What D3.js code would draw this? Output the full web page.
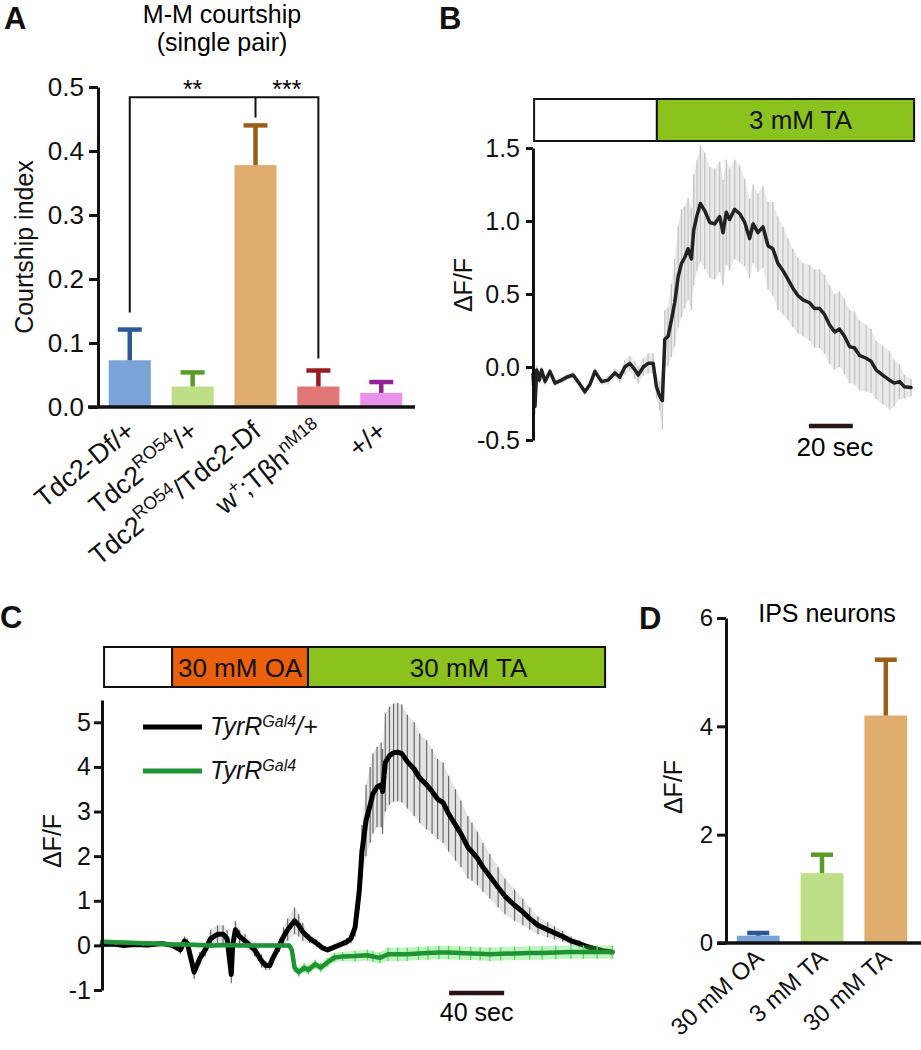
<!DOCTYPE html>
<html><head><meta charset="utf-8">
<script src="https://cdn.jsdelivr.net/npm/d3@7"></script>
<style>
body{margin:0;background:#fff}
svg{display:block}
</style>
</head><body>
<svg id="fig" width="921" height="1050"></svg>
<script>
// ---------------- DATA ----------------
// Panel A
const aCategories = ["Tdc2-Df/+", "Tdc2RO54/+", "Tdc2RO54/Tdc2-Df", "w+;TβhnM18", "+/+"];
const aLabelParts = [
  [["Tdc2-Df/+", 0]],
  [["Tdc2", 0], ["RO54", 1], ["/+", 0]],
  [["Tdc2", 0], ["RO54", 1], ["/Tdc2-Df", 0]],
  [["w", 0], ["+", 1], [";Tβh", 0], ["nM18", 1]],
  [["+/+", 0]]
];
const aValues = [0.073, 0.032, 0.378, 0.032, 0.022];
const aErrors = [0.048, 0.022, 0.062, 0.025, 0.017];
const aTicks = [0, 0.1, 0.2, 0.3, 0.4, 0.5];
const aSignif = ["**", "***"];

// Panel B
const bTime = [0,0.9,1.7,2.9,3.9,5.5,7.7,10.0,13.0,15.3,18.3,21.4,23.6,25.9,28.2,31.2,34.2,37.3,39.5,41.8,44.1,46.4,47.9,50.2,52.4,54.7,56.2,57.7,58.9,60.0,61.5,63.0,64.5,66.1,67.6,69.1,70.6,72.1,73.2,74.7,76.2,78.2,80.5,82.7,85.0,86.5,88.0,89.5,91.8,94.1,96.4,98.6,100.2,102.4,104.7,107.0,109.2,111.5,113.8,116.1,118.3,120.6,122.9,125.9,128.2,130.5,132.7,135.0,137.3,139.5,141.8,144.1,146.4,148.6,151.7,153.9,156.2,159.2,162.3,164.5,166.8,169.1,172.1];
const bMean = [-0.05,-0.27,-0.02,-0.09,-0.02,-0.10,-0.03,-0.11,-0.09,-0.07,-0.055,-0.12,-0.17,-0.12,-0.03,-0.10,-0.09,-0.04,-0.07,0.0,0.025,-0.02,-0.055,0.0,0.025,0.025,-0.135,-0.20,-0.23,0.19,0.21,0.32,0.44,0.62,0.71,0.75,0.81,0.74,0.94,1.04,1.12,1.07,0.99,0.98,1.03,0.92,1.06,1.01,1.08,1.05,0.99,0.88,0.98,0.92,0.96,0.83,0.81,0.71,0.66,0.60,0.54,0.49,0.46,0.44,0.40,0.40,0.36,0.29,0.24,0.26,0.21,0.14,0.13,0.08,0.06,0.04,-0.02,-0.055,-0.09,-0.11,-0.10,-0.135,-0.14];
const bSem = [0.03,0.05,0.03,0.02,0.02,0.02,0.02,0.02,0.02,0.02,0.02,0.02,0.02,0.02,0.02,0.02,0.03,0.03,0.04,0.05,0.05,0.06,0.06,0.06,0.07,0.07,0.08,0.10,0.20,0.20,0.20,0.25,0.30,0.35,0.37,0.35,0.35,0.35,0.38,0.38,0.40,0.40,0.38,0.38,0.38,0.36,0.36,0.35,0.34,0.33,0.30,0.27,0.27,0.27,0.28,0.30,0.32,0.32,0.30,0.28,0.27,0.26,0.25,0.26,0.27,0.27,0.27,0.27,0.26,0.26,0.26,0.25,0.25,0.24,0.23,0.22,0.20,0.20,0.20,0.16,0.12,0.08,0.06];
const bTicks = [-0.5, 0, 0.5, 1.0, 1.5];
const bStimLabels = ["", "3 mM TA"];
const bStimStart = [0.5, 56.4];
const bStimEnd = [56.4, 173.5];
const bScaleBar = [125.6, 145.6]; // 20 sec
const bScaleLabel = "20 sec";

// Panel C
const cTime = [0,8,15,24,33,44,51,57,60,62,67,71,75,79,84,88,91,94,95,97,100,104,111,116,119,122,124,129,132,135,140,143,146,151,156,160,164,168,172,178,181,184,187,189,192,195,197,200,203,204,206,209,212,215,218,222,227,231,236,240,244,248,252,257,261,266,269,273,277,282,288,293,300,306,311,317,324,329,335,341,347,353,359,364,371];
const cBlackMean = [0.02,0.03,0.0,0.02,0.01,0.04,0.0,-0.1,0.1,0.05,-0.6,-0.3,-0.1,0.15,0.25,0.25,0.15,-0.65,0.0,0.35,0.2,0.1,-0.1,-0.35,-0.45,-0.45,-0.3,0.0,0.2,0.35,0.55,0.45,0.3,0.15,0.05,-0.05,-0.1,-0.05,0.0,0.08,0.15,0.4,1.2,2.1,2.8,3.15,3.4,3.55,3.6,3.45,4.1,4.25,4.32,4.33,4.3,4.12,3.95,3.75,3.6,3.45,3.28,3.2,2.95,2.7,2.5,2.2,2.1,1.95,1.75,1.55,1.3,1.1,0.9,0.75,0.6,0.45,0.35,0.28,0.2,0.1,0.04,-0.03,-0.08,-0.12,-0.15];
const cBlackSem = [0.05,0.05,0.05,0.05,0.05,0.05,0.05,0.1,0.1,0.1,0.15,0.15,0.15,0.2,0.2,0.2,0.2,0.2,0.2,0.2,0.15,0.15,0.15,0.15,0.1,0.1,0.1,0.15,0.2,0.25,0.3,0.25,0.2,0.1,0.08,0.06,0.06,0.06,0.06,0.08,0.1,0.2,0.4,0.6,0.8,0.85,0.9,0.9,0.95,0.95,1.1,1.1,1.1,1.1,1.1,1.05,1.05,1.0,1.0,0.95,0.9,0.9,0.85,0.8,0.75,0.7,0.65,0.6,0.55,0.5,0.45,0.4,0.35,0.3,0.25,0.2,0.17,0.15,0.12,0.1,0.08,0.06,0.05,0.05,0.05];
const cGreenTime = [0,10,20,30,40,51,60,70,80,90,100,110,120,130,136,138,140,143,147,150,155,159,164,169,175,184,193,197,202,208,215,222,230,237,245,252,260,268,275,282,290,300,311,320,330,341,350,360,371];
const cGreenMean = [0.08,0.07,0.06,0.05,0.04,0.02,0.02,0.01,0.0,0.01,0.0,0.0,0.0,0.0,0.0,-0.1,-0.5,-0.6,-0.5,-0.55,-0.42,-0.5,-0.38,-0.27,-0.25,-0.24,-0.22,-0.25,-0.28,-0.2,-0.2,-0.2,-0.18,-0.17,-0.16,-0.16,-0.17,-0.18,-0.19,-0.2,-0.19,-0.18,-0.17,-0.17,-0.16,-0.15,-0.15,-0.15,-0.15];
const cGreenSem = [0.05,0.05,0.05,0.05,0.05,0.05,0.05,0.05,0.05,0.05,0.05,0.05,0.05,0.05,0.05,0.1,0.1,0.1,0.1,0.1,0.1,0.1,0.1,0.1,0.1,0.12,0.12,0.12,0.12,0.15,0.15,0.15,0.15,0.15,0.15,0.15,0.15,0.15,0.15,0.15,0.15,0.15,0.15,0.15,0.15,0.15,0.15,0.15,0.15];
const cTicks = [-1, 0, 1, 2, 3, 4, 5];
const cStimLabels = ["", "30 mM OA", "30 mM TA"];
const cStimStart = [1.5, 51, 149.8];
const cStimEnd = [51, 149.8, 365.8];
const cLegend = [[["TyrR", 0], ["Gal4", 1], ["/+", 0]], [["TyrR", 0], ["Gal4", 1]]];
const cScaleBar = [252.4, 292.4]; // 40 sec
const cScaleLabel = "40 sec";

// Panel D
const dCategories = ["30 mM OA", "3 mM TA", "30 mM TA"];
const dValues = [0.135, 1.29, 4.2];
const dErrors = [0.05, 0.34, 1.03];
const dTicks = [0, 2, 4, 6];

// ---------------- STYLE ----------------
const FONT = '"Liberation Sans", Arial, Helvetica, sans-serif';
const INK = "#111";
const barFill = ["#7ba3d8", "#bedf88", "#dfae6e", "#e07676", "#eb92ec"];
const barErr  = ["#2c5799", "#5a9a28", "#9b5e18", "#961b22", "#952395"];
const stimFill = {"": "#ffffff", "3 mM TA": "#8cc21e", "30 mM OA": "#ea600c", "30 mM TA": "#8cc21e"};

const svg = d3.select("#fig").attr("font-family", FONT);

function styleAxis(g, w, fs) {
  g.attr("font-family", FONT).attr("font-size", fs);
  g.select(".domain").attr("stroke", INK).attr("stroke-width", w);
  g.selectAll(".tick line").attr("stroke", INK).attr("stroke-width", w);
  g.selectAll(".tick text").attr("fill", INK);
}
function richText(sel, parts, fs, sfs, rise) {
  let up = false;
  parts.forEach(([t, sup]) => {
    const ts = sel.append("tspan").text(t);
    if (sup) { ts.attr("font-size", sfs).attr("dy", up ? 0 : -rise); up = true; }
    else { ts.attr("font-size", fs); if (up) { ts.attr("dy", rise); up = false; } }
  });
}
function panelLetter(x, y, t) {
  svg.append("text").attr("x", x).attr("y", y).attr("font-size", 31).attr("font-weight", "bold").attr("fill", INK).text(t);
}
function rotLabel(x, y, t, fs) {
  svg.append("text").attr("transform", `translate(${x},${y}) rotate(-90)`).attr("text-anchor", "middle")
    .attr("font-size", fs).attr("fill", INK).text(t);
}
function trace(g, x, y, t, m, s, col, w, ecol, ew, bandOp) {
  const idx = d3.range(t.length);
  g.append("path").datum(idx)
    .attr("d", d3.area().x(i => x(t[i])).y0(i => y(m[i] - s[i])).y1(i => y(m[i] + s[i])))
    .attr("fill", ecol).attr("opacity", bandOp);
  g.append("g").selectAll("line").data(idx).join("line")
    .attr("x1", i => x(t[i])).attr("x2", i => x(t[i]))
    .attr("y1", i => y(m[i] - s[i])).attr("y2", i => y(m[i] + s[i]))
    .attr("stroke", ecol).attr("stroke-width", ew);
  g.append("path").datum(idx)
    .attr("d", d3.line().x(i => x(t[i])).y(i => y(m[i])))
    .attr("fill", "none").attr("stroke", col).attr("stroke-width", w)
    .attr("stroke-linejoin", "round").attr("stroke-linecap", "round");
}
function stimBar(x, y0, h, starts, ends, labels, fs, ty, shift) {
  const g = svg.append("g");
  labels.forEach((l, i) => {
    g.append("rect").attr("x", x(starts[i])).attr("y", y0).attr("width", x(ends[i]) - x(starts[i])).attr("height", h)
      .attr("fill", stimFill[l]).attr("stroke", INK).attr("stroke-width", 2);
  });
  labels.forEach((l, i) => {
    if (l) g.append("text").attr("x", (x(starts[i]) + x(ends[i])) / 2 + shift[i]).attr("y", ty).attr("text-anchor", "middle")
      .attr("font-size", fs).attr("fill", INK).text(l);
  });
}
function barsWithErr(g, x, y, vals, errs, capW) {
  const bw = x.bandwidth();
  vals.forEach((v, i) => {
    const cx = x(i) + bw / 2;
    g.append("rect").attr("x", x(i)).attr("y", y(v)).attr("width", bw).attr("height", y(0) - y(v)).attr("fill", barFill[i]);
    g.append("line").attr("x1", cx).attr("x2", cx).attr("y1", y(v)).attr("y2", y(v + errs[i]))
      .attr("stroke", barErr[i]).attr("stroke-width", 4.5);
    g.append("line").attr("x1", cx - capW / 2).attr("x2", cx + capW / 2).attr("y1", y(v + errs[i])).attr("y2", y(v + errs[i]))
      .attr("stroke", barErr[i]).attr("stroke-width", 4.5);
  });
}

// ---------------- PANEL A ----------------
{
  const x = d3.scaleBand().domain(d3.range(aValues.length)).range([98, 413]).paddingInner(0.33).paddingOuter(0.17);
  const y = d3.scaleLinear().domain([0, 0.5]).range([407, 87]);
  const g = svg.append("g");
  barsWithErr(g, x, y, aValues, aErrors, 24);
  const ax = g.append("g").attr("transform", "translate(98,0)")
    .call(d3.axisLeft(y).tickValues(aTicks).tickFormat(d => d.toFixed(1)).tickSize(9).tickPadding(5).tickSizeOuter(0));
  styleAxis(ax, 3, 26);
  g.append("line").attr("x1", 88).attr("x2", 415).attr("y1", y(0)).attr("y2", y(0)).attr("stroke", INK).attr("stroke-width", 3.5);
  const c = i => x(i) + x.bandwidth() / 2;
  const top = y(0.484);
  g.append("path").attr("d", `M${c(0)},${y(aValues[0] + aErrors[0]) - 17}V${top}H${c(3)}V${y(aValues[3] + aErrors[3]) - 12}M${c(2)},${top}V${y(aValues[2] + aErrors[2]) - 8}`)
    .attr("fill", "none").attr("stroke", INK).attr("stroke-width", 2);
  g.append("text").attr("x", (c(0) + c(2)) / 2).attr("y", 98).attr("text-anchor", "middle").attr("font-size", 25).text(aSignif[0]);
  g.append("text").attr("x", (c(2) + c(3)) / 2).attr("y", 98).attr("text-anchor", "middle").attr("font-size", 25).text(aSignif[1]);
  aLabelParts.forEach((parts, i) => {
    const t = g.append("text").attr("transform", `translate(${c(i) + 7},${434}) rotate(-39)`)
      .attr("text-anchor", "end").attr("fill", INK);
    richText(t, parts, 27, 18, 11);
  });
  g.append("text").attr("x", 222).attr("y", 23).attr("text-anchor", "middle").attr("font-size", 25).text("M-M courtship");
  g.append("text").attr("x", 222).attr("y", 51).attr("text-anchor", "middle").attr("font-size", 25).text("(single pair)");
  rotLabel(33, 247, "Courtship index", 25);
  panelLetter(4, 29, "A");
}

// ---------------- PANEL B ----------------
{
  const x = d3.scaleLinear().domain([0, 173]).range([533, 913]);
  const y = d3.scaleLinear().domain([-0.5, 1.5]).range([440, 148]);
  const g = svg.append("g");
  trace(g, x, y, bTime, bMean, bSem, "#222", 3.5, "#c4c4c4", 1.3, 0.35);
  const ax = g.append("g").attr("transform", "translate(533,0)")
    .call(d3.axisLeft(y).tickValues(bTicks).tickFormat(d => d.toFixed(1)).tickSize(7).tickPadding(6).tickSizeOuter(0));
  styleAxis(ax, 3, 25);
  stimBar(x, 99, 42, bStimStart, bStimEnd, bStimLabels, 26, 129, [0, 15]);
  g.append("line").attr("x1", x(bScaleBar[0])).attr("x2", x(bScaleBar[1])).attr("y1", 426).attr("y2", 426).attr("stroke", "#2a1414").attr("stroke-width", 4.5);
  g.append("text").attr("x", (x(bScaleBar[0]) + x(bScaleBar[1])) / 2 + 4).attr("y", 456).attr("text-anchor", "middle").attr("font-size", 26).text(bScaleLabel);
  rotLabel(472, 285, "ΔF/F", 25);
  panelLetter(439, 29, "B");
}

// ---------------- PANEL C ----------------
{
  const x = d3.scaleLinear().domain([0, 373]).range([102, 615]);
  const y = d3.scaleLinear().domain([-1, 5.5]).range([990, 700]);
  const g = svg.append("g");
  trace(g, x, y, cTime, cBlackMean, cBlackSem, "#000", 5, "#6a6a6a", 1.2, 0.18);
  trace(g, x, y, cGreenTime, cGreenMean, cGreenSem, "#1e9234", 4.5, "#50e050", 1.4, 0.35);
  const ax = g.append("g").attr("transform", "translate(102,0)")
    .call(d3.axisLeft(y).tickValues(cTicks).tickFormat(d => String(d)).tickSize(8).tickPadding(3).tickSizeOuter(0));
  styleAxis(ax, 3, 25);
  stimBar(x, 647, 40, cStimStart, cStimEnd, cStimLabels, 26, 677, [0, 0, 12]);
  const lc = ["#000", "#1e9234"];
  cLegend.forEach((parts, i) => {
    const ly = 727 + i * 44;
    g.append("line").attr("x1", 143).attr("x2", 202).attr("y1", ly).attr("y2", ly).attr("stroke", lc[i]).attr("stroke-width", 5);
    const t = g.append("text").attr("x", 210).attr("y", ly + 8).attr("font-style", "italic").attr("fill", INK);
    richText(t, parts, 25, 16, 8);
  });
  g.append("line").attr("x1", x(cScaleBar[0])).attr("x2", x(cScaleBar[1])).attr("y1", 993).attr("y2", 993).attr("stroke", "#2a1414").attr("stroke-width", 4.5);
  g.append("text").attr("x", (x(cScaleBar[0]) + x(cScaleBar[1])) / 2).attr("y", 1021).attr("text-anchor", "middle").attr("font-size", 25).text(cScaleLabel);
  rotLabel(61, 841, "ΔF/F", 25);
  panelLetter(0, 628, "C");
}

// ---------------- PANEL D ----------------
{
  const x = d3.scaleBand().domain(d3.range(dValues.length)).range([726, 918]).paddingInner(0.33).paddingOuter(0.17);
  const y = d3.scaleLinear().domain([0, 6]).range([943, 618]);
  const g = svg.append("g");
  barsWithErr(g, x, y, dValues, dErrors, 22);
  const ax = g.append("g").attr("transform", "translate(726,0)")
    .call(d3.axisLeft(y).tickValues(dTicks).tickFormat(d3.format("d")).tickSize(9).tickPadding(4).tickSizeOuter(0));
  styleAxis(ax, 3, 24);
  g.append("line").attr("x1", 717).attr("x2", 921).attr("y1", y(0)).attr("y2", y(0)).attr("stroke", INK).attr("stroke-width", 3.5);
  dCategories.forEach((l, i) => {
    g.append("text").attr("transform", `translate(${x(i) + x.bandwidth() / 2 + 7},${960}) rotate(-42)`)
      .attr("text-anchor", "end").attr("font-size", 24).attr("fill", INK).text(l);
  });
  g.append("text").attr("x", 827).attr("y", 622).attr("text-anchor", "middle").attr("font-size", 25).text("IPS neurons");
  rotLabel(682, 787, "ΔF/F", 25);
  panelLetter(639, 629, "D");
}
</script>
</body></html>
